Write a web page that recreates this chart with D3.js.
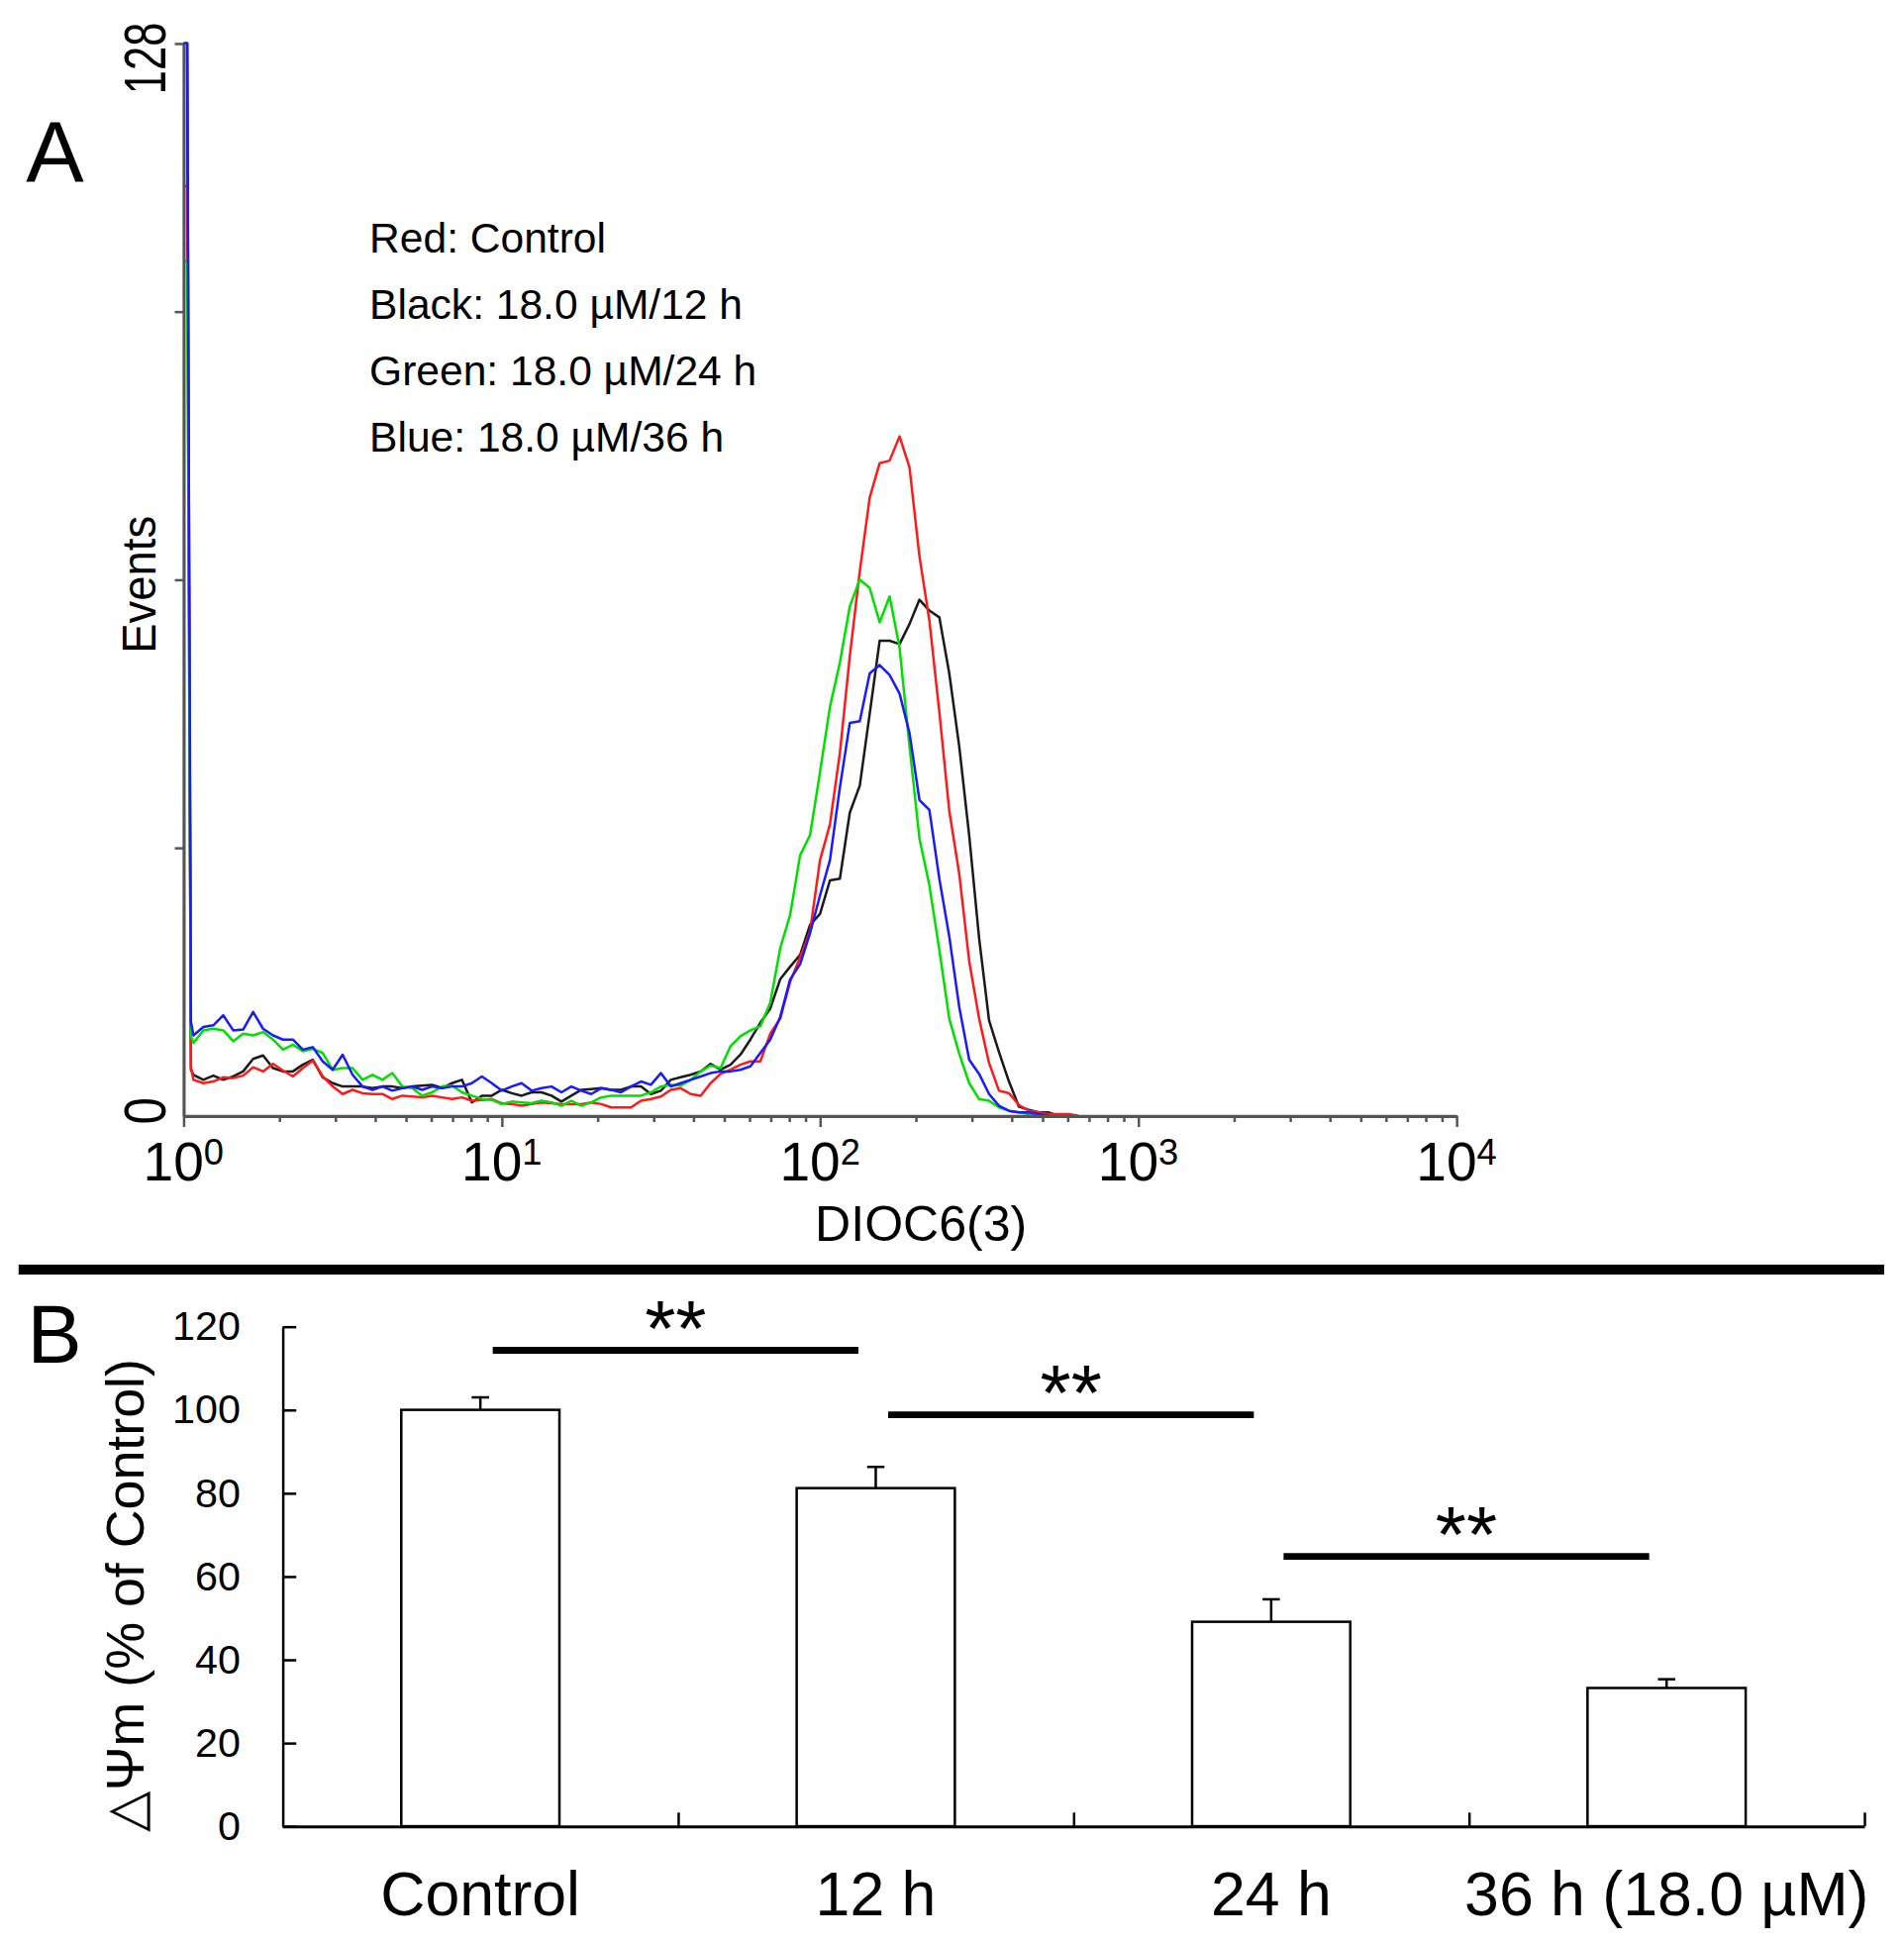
<!DOCTYPE html>
<html>
<head>
<meta charset="utf-8">
<script src="https://cdn.jsdelivr.net/npm/d3@7"></script>
<style>
body { margin: 0; background: #fff; }
svg { display: block; }
text { font-family: "Liberation Sans", Arial, sans-serif; fill: #000; }
</style>
</head>
<body>
<script>
// panel A: DiOC6(3) histograms, channel number (256 per decade) vs events
var channels = [0, 3, 6,
  8, 16, 24, 32, 40, 48, 56, 64, 72, 80,
  88, 96, 104, 112, 120, 128, 136, 144, 152, 160,
  168, 176, 184, 192, 200, 208, 216, 224, 232, 240,
  248, 256, 264, 272, 280, 288, 296, 304, 312, 320,
  328, 336, 344, 352, 360, 368, 376, 384, 392, 400,
  408, 416, 424, 432, 440, 448, 456, 464, 472, 480,
  488, 496, 504, 512, 520, 528, 536, 544, 552, 560,
  568, 576, 584, 592, 600, 608, 616, 624, 632, 640,
  648, 656, 664, 672, 680, 688, 696, 704, 712, 720,
  728, 736];

var redCounts = [111, 111, 5.8,
  4.3, 3.9, 4.1, 4.6, 4.5, 4.8, 5.8, 5.3, 6.2, 5.4,
  4.7, 5.7, 6.6, 4.7, 3.5, 2.6, 3.1, 2.7, 2.6, 2.6,
  2.0, 2.4, 2.3, 2.2, 2.4, 2.2, 2.0, 2.2, 1.8, 1.9,
  2.0, 1.5, 1.4, 1.2, 1.4, 1.6, 1.5, 1.4, 1.4, 1.4,
  1.6, 1.4, 1.0, 1.0, 1.0, 1.8, 2.0, 2.3, 3.1, 3.3,
  2.6, 2.4, 3.9, 5.0, 5.5, 6.1, 6.5, 6.5, 9.8, 11.6,
  16.0, 18.9, 22.0, 30.5, 34.8, 43.3, 54.9, 65.0, 73.8, 77.9,
  78.2, 81.1, 77.4, 66.8, 59.1, 48.2, 36.4, 28.9, 18.5, 11.6,
  6.3, 3.0, 2.7, 1.3, 0.6, 0.4, 0.2, 0.2, 0.2, 0,
  0, 0];

var blackCounts = [128, 128, 5.5,
  4.9, 4.3, 4.8, 4.3, 4.7, 5.3, 6.8, 7.2, 5.7, 5.3,
  5.3, 6.1, 6.7, 4.6, 3.9, 3.5, 3.5, 3.5, 3.3, 3.5,
  3.5, 3.3, 3.5, 3.6, 3.7, 3.3, 3.9, 4.3, 1.6, 2.4,
  2.4, 3.1, 2.7, 2.4, 2.8, 2.8, 2.4, 1.7, 2.4, 3.1,
  3.2, 3.3, 3.1, 3.1, 3.5, 3.5, 2.6, 3.0, 4.3, 4.6,
  4.9, 5.3, 6.2, 5.5, 6.1, 7.3, 9.1, 11.1, 12.8, 16.3,
  17.8, 19.2, 22.8, 24.1, 28.1, 28.3, 36.2, 39.4, 48.0, 56.7,
  56.7, 56.3, 58.7, 61.6, 60.3, 59.5, 52.8, 44.1, 33.5, 21.2,
  11.4, 7.6, 4.1, 1.1, 0.7, 0.4, 0.4, 0, 0, 0,
  0, 0];

var greenCounts = [102, 102, 9.5,
  8.7, 10.2, 10.4, 10.2, 8.9, 9.8, 9.6, 10.0, 9.1, 7.9,
  8.5, 7.7, 8.0, 7.5, 5.5, 5.7, 5.7, 4.3, 4.9, 4.3,
  5.1, 3.5, 3.3, 2.4, 2.8, 3.5, 3.6, 2.8, 2.4, 2.0,
  1.9, 1.4, 1.7, 1.6, 1.5, 1.8, 1.6, 1.2, 1.8, 1.2,
  1.6, 2.2, 2.4, 2.4, 2.4, 2.4, 2.8, 3.5, 3.7, 3.6,
  4.3, 5.3, 6.0, 5.7, 8.3, 9.5, 10.2, 10.7, 13.5, 20.0,
  24.0, 31.1, 33.5, 41.0, 48.8, 54.1, 60.8, 64.0, 63.0, 58.9,
  62.0, 55.9, 44.1, 33.1, 27.5, 19.8, 11.6, 7.4, 3.9, 2.0,
  1.8, 1.0, 0.6, 0.4, 0.2, 0.1, 0, 0, 0, 0,
  0, 0];

var blueCounts = [128, 128, 11.2,
  9.6, 10.6, 10.8, 12.0, 10.2, 10.3, 12.4, 10.4, 9.6, 9.1,
  9.1, 7.9, 8.2, 6.5, 5.5, 7.3, 4.9, 3.5, 3.1, 3.5,
  3.0, 3.3, 3.5, 3.1, 3.5, 3.3, 3.5, 3.5, 3.9, 4.7,
  3.9, 3.0, 3.5, 3.9, 3.0, 3.3, 3.5, 2.8, 3.5, 3.0,
  2.6, 3.3, 3.1, 2.8, 3.5, 4.1, 3.7, 5.1, 3.5, 3.9,
  4.3, 4.7, 5.1, 5.3, 5.3, 5.5, 5.9, 7.5, 9.1, 11.8,
  16.3, 18.1, 21.8, 26.3, 30.5, 39.2, 46.9, 47.1, 52.8, 53.8,
  52.6, 50.4, 45.7, 37.7, 36.5, 28.3, 21.4, 13.0, 6.7, 5.0,
  2.6, 1.2, 0.6, 0.4, 0.4, 0.2, 0, 0, 0, 0,
  0, 0];

var legendLines = ["Red: Control", "Black: 18.0 \u00b5M/12 h", "Green: 18.0 \u00b5M/24 h", "Blue: 18.0 \u00b5M/36 h"];
var decades = [1, 10, 100, 1000, 10000];
var eventTicks = [32, 64, 96, 128];

// panel B: membrane potential, % of control
var groups = ["Control", "12 h", "24 h", "36 h (18.0 \u00b5M)"];
var means = [100, 81.2, 49.1, 33.2];
var errors = [3.0, 5.1, 5.4, 2.1];
var percentTicks = [0, 20, 40, 60, 80, 100, 120];
var comparisons = [[0, 1, 114.3], [1, 2, 98.8], [2, 3, 64.8]];

var W = 1536, H = 1568;

var translate = function (x, y) {
  return "translate(" + x + "," + y + ")";
};

var svg = d3.select("body").append("svg")
  .attr("width", 1923)
  .attr("height", 1963)
  .attr("viewBox", "0 0 " + W + " " + H);

// ---------- panel A ----------
var xA = d3.scaleLog().domain([1, 10000]).range([148, 1175]);
var yA = d3.scaleLinear().domain([0, 128]).range([900, 35]);

var series = [
  {counts: blackCounts, color: "#1a1a1a"},
  {counts: redCounts, color: "#ff1a1a"},
  {counts: greenCounts, color: "#00e000"},
  {counts: blueCounts, color: "#1a1aff"}
];

var histLine = d3.line()
  .x(function (d) { return xA(Math.pow(10, d.ch / 256)); })
  .y(function (d) { return yA(Math.min(d.n, 128)); });

series.forEach(function (s) {
  var last = 0;
  s.counts.forEach(function (n, i) { if (n > 0) last = i; });
  var pts = channels.slice(0, last + 2).map(function (ch, i) {
    return {ch: ch, n: s.counts[i]};
  });
  svg.append("path")
    .attr("d", histLine(pts))
    .attr("fill", "none")
    .attr("stroke", s.color)
    .attr("stroke-width", 2)
    .attr("stroke-linejoin", "round");
});

var logTicks = [];
decades.slice(0, 4).forEach(function (d) {
  for (var m = 1; m < 10; m++) logTicks.push(d * m);
});
logTicks.push(10000);

var gxA = svg.append("g")
  .attr("transform", translate(0, 900))
  .call(d3.axisBottom(xA).tickValues(logTicks).tickFormat("").tickSizeOuter(0));
gxA.select(".domain").attr("stroke", "#555").attr("stroke-width", 2.5);
gxA.selectAll(".tick line")
  .attr("stroke", "#555")
  .attr("stroke-width", 2)
  .attr("y2", function (d) { return decades.indexOf(d) >= 0 ? 9 : 5; });

var decadeLabels = svg.append("g").selectAll("text")
  .data(decades)
  .enter()
  .append("text")
  .attr("x", function (d) { return xA(d); })
  .attr("y", 952)
  .attr("text-anchor", "middle")
  .style("font-size", "44px");
decadeLabels.append("tspan").text("10");
decadeLabels.append("tspan")
  .attr("dy", -13)
  .style("font-size", "29px")
  .text(function (d) { return Math.round(Math.log10(d)); });

var gyA = svg.append("g")
  .attr("transform", translate(148, 0))
  .call(d3.axisLeft(yA).tickValues(eventTicks).tickFormat("").tickSize(7).tickSizeOuter(0));
gyA.select(".domain").attr("stroke", "#555").attr("stroke-width", 2.5);
gyA.selectAll(".tick line").attr("stroke", "#555").attr("stroke-width", 2);

// vertical labels in panel A are narrow: squeeze them along the text direction
var vText = function (x, y, str, size, len) {
  var t = svg.append("text")
    .attr("text-anchor", "middle")
    .style("font-size", size + "px")
    .text(str);
  var natural = t.node().getComputedTextLength();
  t.attr("transform", translate(x, y) + " rotate(-90) scale(" + (len / natural) + ",1)");
};
vText(133.5, yA(128) + 12, "128", 47, 58);
vText(133.5, yA(0) - 4, "0", 47, 22);
vText(125.5, yA(64) + 4, "Events", 39, 111);

svg.append("g").selectAll("text")
  .data(legendLines)
  .enter()
  .append("text")
  .attr("x", 298)
  .attr("y", function (d, i) { return 204 + i * 53.5; })
  .style("font-size", "34px")
  .text(function (d) { return d; });

svg.append("text")
  .attr("x", 743)
  .attr("y", 1001)
  .attr("text-anchor", "middle")
  .style("font-size", "40px")
  .text("DIOC6(3)");

svg.append("text")
  .attr("x", 21)
  .attr("y", 147)
  .style("font-size", "70px")
  .text("A");

// separator
svg.append("line")
  .attr("x1", 15).attr("x2", 1520)
  .attr("y1", 1024).attr("y2", 1024)
  .attr("stroke", "#000")
  .attr("stroke-width", 8);

// ---------- panel B ----------
var xB = d3.scaleBand().domain(groups).range([228, 1504]);
var yB = d3.scaleLinear().domain([0, 120]).range([1473, 1070]);
var bw = xB.bandwidth() * 0.4;
var mid = function (g) { return xB(g) + xB.bandwidth() / 2; };

var barData = groups.map(function (g, i) {
  return {g: g, mean: means[i], err: errors[i]};
});

svg.append("g").selectAll("rect")
  .data(barData)
  .enter()
  .append("rect")
  .attr("x", function (d) { return mid(d.g) - bw / 2; })
  .attr("y", function (d) { return yB(d.mean); })
  .attr("width", bw)
  .attr("height", function (d) { return yB(0) - yB(d.mean); })
  .attr("fill", "#fff")
  .attr("stroke", "#000")
  .attr("stroke-width", 2);

var errG = svg.append("g").attr("stroke", "#000").attr("stroke-width", 2);
errG.selectAll(".stem")
  .data(barData)
  .enter()
  .append("line")
  .attr("x1", function (d) { return mid(d.g); })
  .attr("x2", function (d) { return mid(d.g); })
  .attr("y1", function (d) { return yB(d.mean); })
  .attr("y2", function (d) { return yB(d.mean + d.err); });
errG.selectAll(".cap")
  .data(barData)
  .enter()
  .append("line")
  .attr("x1", function (d) { return mid(d.g) - 7; })
  .attr("x2", function (d) { return mid(d.g) + 7; })
  .attr("y1", function (d) { return yB(d.mean + d.err); })
  .attr("y2", function (d) { return yB(d.mean + d.err); });

var gyB = svg.append("g")
  .attr("transform", translate(228, 0))
  .call(d3.axisLeft(yB).tickValues(percentTicks).tickSize(-11).tickPadding(34).tickSizeOuter(0));
gyB.select(".domain").attr("stroke", "#000").attr("stroke-width", 2);
gyB.selectAll(".tick line").attr("stroke", "#000").attr("stroke-width", 2);
gyB.selectAll(".tick text").style("font-size", "33px").attr("fill", "#000");

var gxB = svg.append("g")
  .attr("transform", translate(0, 1473))
  .call(d3.axisBottom(xB).tickSize(0).tickPadding(36).tickSizeOuter(0));
gxB.select(".domain").attr("stroke", "#000").attr("stroke-width", 2.5);
gxB.selectAll(".tick text").style("font-size", "50px").attr("fill", "#000");

var bounds = d3.scaleLinear().domain([0, groups.length]).range(xB.range());
var gbB = svg.append("g")
  .attr("transform", translate(0, 1473))
  .call(d3.axisBottom(bounds).tickValues([1, 2, 3, 4]).tickSize(-11).tickFormat(""));
gbB.select(".domain").remove();
gbB.selectAll(".tick line").attr("stroke", "#000").attr("stroke-width", 2);

comparisons.forEach(function (c) {
  var x1 = mid(groups[c[0]]) + 10;
  var x2 = mid(groups[c[1]]) - 14;
  var y = yB(c[2]);
  svg.append("line")
    .attr("x1", x1).attr("x2", x2)
    .attr("y1", y).attr("y2", y)
    .attr("stroke", "#000")
    .attr("stroke-width", 5.5);
  svg.append("text")
    .attr("x", (x1 + x2) / 2)
    .attr("y", y + 4)
    .attr("text-anchor", "middle")
    .style("font-size", "64px")
    .text("**");
});

svg.append("text")
  .attr("transform", translate(116, 1287) + " rotate(-90)")
  .attr("text-anchor", "middle")
  .attr("textLength", 382)
  .attr("lengthAdjust", "spacingAndGlyphs")
  .style("font-size", "43px")
  .text("\u25b3\u03a8m (% of Control)");

svg.append("text")
  .attr("x", 22)
  .attr("y", 1099)
  .style("font-size", "66px")
  .text("B");
</script>
</body>
</html>
